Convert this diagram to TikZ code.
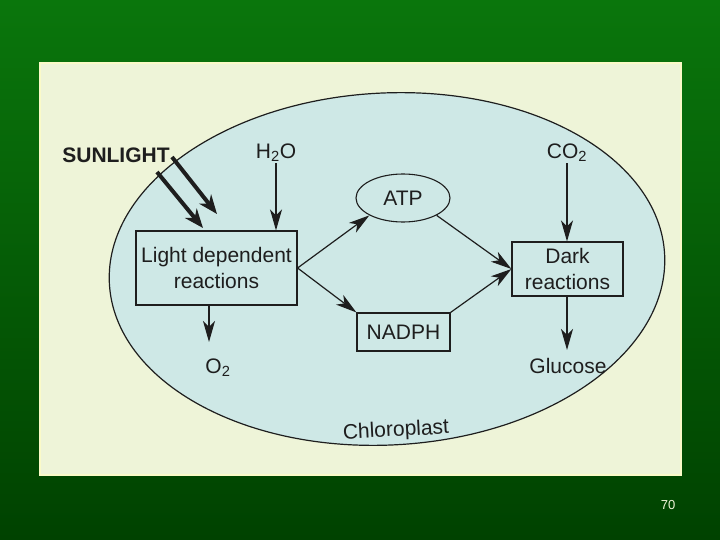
\documentclass[tikz,border=0pt]{standalone}
\usepackage{fontspec}
\setmainfont{Liberation Sans}
\usetikzlibrary{arrows.meta,shapes.geometric}

\definecolor{slidegreen}{RGB}{10,118,12}
\definecolor{slidedark}{RGB}{0,66,0}
\definecolor{panelcream}{RGB}{238,244,216}
\definecolor{panelrim}{RGB}{250,250,200}
\definecolor{plastcyan}{RGB}{206,232,230}
\definecolor{inkgray}{RGB}{30,30,30}

\tikzset{
  label/.style={font=\fontsize{21}{26}\selectfont, text=inkgray, align=center, inner sep=1pt},
  rbox/.style={label, draw=inkgray, line width=1.1pt, fill=plastcyan},
  arr/.style={-{Stealth[length=21pt,width=12pt,inset=6pt]}, line width=1.2pt, draw=inkgray},
  sunarr/.style={-{Stealth[length=19pt,width=15pt,inset=6pt]}, line width=4pt, draw=inkgray}
}

\begin{document}
\begin{tikzpicture}[x=1pt,y=-1pt]
        \useasboundingbox (0,0) rectangle (720,540);
        \shade[top color=slidegreen, bottom color=slidedark] (0,0) rectangle (720,540);
        \fill[panelcream, draw=panelrim, line width=1.5pt] (40,63) rectangle (681,475);
        \draw[fill=plastcyan, draw=inkgray, line width=1.2pt, rotate around={3:(387,269)}]
            (387,269) ellipse [x radius=278, y radius=176];

        \node[label, font=\fontsize{21}{24}\selectfont\bfseries] (sun) at (116,155) {SUNLIGHT};
        \node[label] (water) at (276,153) {H\textsubscript{2}O};
        \node[label] (co2) at (567,153) {CO\textsubscript{2}};
        \node[rbox, minimum width=161pt, minimum height=74pt] (light) at (216.5,268) {Light dependent\\reactions};
        \node[rbox, ellipse, minimum width=94pt, minimum height=48pt] (atp) at (403,198) {ATP};
        \node[rbox, minimum width=93pt, minimum height=38pt] (nadph) at (403.5,332) {NADPH};
        \node[rbox, minimum width=111pt, minimum height=54pt] (dark) at (567.5,269) {Dark\\reactions};
        \node[label] (oxy) at (218,368) {O\textsubscript{2}};
        \node[label] (gluc) at (568,366) {Glucose};
        \node[label, rotate=3] (plast) at (396,431) {Chloroplast};
        \node[font=\fontsize{13}{15}\selectfont, text=panelcream] (page) at (668,505) {70};

        \coordinate (s1a) at (157,172);
        \coordinate (s1b) at (203,228);
        \coordinate (s2a) at (172,157);
        \coordinate (s2b) at (217,214);
        \coordinate (o2tip) at (209,342);
        \coordinate (glutip) at (567,350);
        \draw[sunarr] (s1a) -- (s1b);
        \draw[sunarr] (s2a) -- (s2b);

        \draw[arr] (water) -- (water |- light.north);
        \draw[arr] (co2) -- (co2 |- dark.north);
        \draw[arr] (light.east) -- (atp.south west);
        \draw[arr] (light.east) -- (nadph.north west);
        \draw[arr] (atp.south east) -- (dark.west);
        \draw[arr] (nadph.north east) -- (dark.west);
        \draw[arr] (light.south -| o2tip) -- (o2tip);
        \draw[arr] (dark.south -| glutip) -- (glutip);
    \end{tikzpicture}
\end{document}
